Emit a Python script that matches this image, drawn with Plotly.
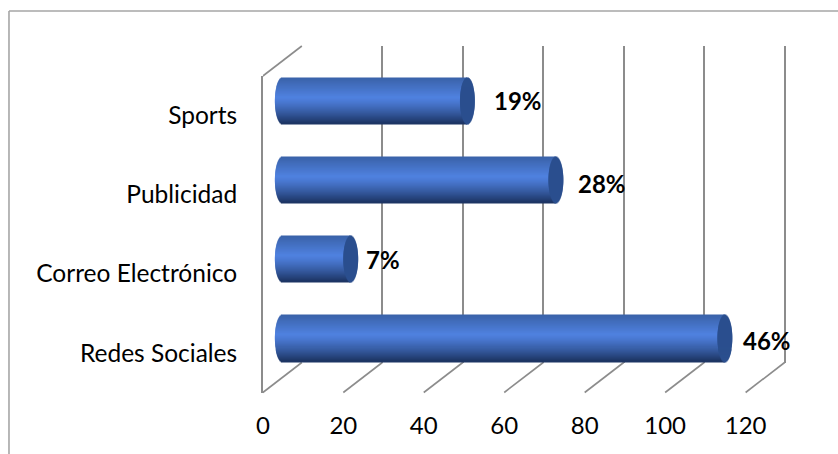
import math
import plotly.graph_objects as go

categories = ["Redes Sociales", "Correo Electrónico", "Publicidad", "Sports"]
values = [110, 17, 68, 46]
labels = ["46%", "7%", "28%", "19%"]
label_shift = [42, 32, 46, 51]
label_yshift = [-2, 0, -3, 1]
ticks = [0, 20, 40, 60, 80, 100, 120]

W, H = 838, 454
PX = 4.057            # pixels per value unit
X0, Y_BOTTOM, PH = 258, 392.5, 316.5
DX, DY = 39.3, 30     # depth of the 3D box in pixels
PW = 527
PAD = 20              # room left of the bars' zero for the rounded end
FONT = "Lato, Carlito, Open Sans, sans-serif"
GRID = "#8c8c8c"
BAR_W = 0.585
RX = 7.5 / PX
N = 46


def xdom(shift, pad=0):
    return [(X0 + shift - pad) / W, (X0 + shift + PW) / W]


def ydom(shift):
    return [1 - (Y_BOTTOM - shift) / H, 1 - (Y_BOTTOM - shift - PH) / H]


def mix(a, b, t):
    return tuple(a[i] + (b[i] - a[i]) * t for i in range(3))


TOP, MID, BOT = (58, 98, 168), (80, 130, 224), (28, 52, 98)


def shade(s):
    c = mix(TOP, MID, s / 0.43) if s < 0.43 else mix(MID, BOT, ((s - 0.43) / 0.57) ** 1.25)
    return "rgb(%d,%d,%d)" % c


fig = go.Figure()
# invisible traces bind the front axes and the back wall axes
fig.add_scatter(x=ticks, y=[categories[0]] * len(ticks), mode="markers",
                marker=dict(opacity=0), xaxis="x", yaxis="y", showlegend=False, hoverinfo="skip")
fig.add_scatter(x=ticks, y=[categories[0]] * len(ticks), mode="markers",
                marker=dict(opacity=0), xaxis="x2", yaxis="y2", showlegend=False, hoverinfo="skip")

step = BAR_W / N
for i in range(N):
    s = (i + 0.5) / N                       # 0 at top of cylinder, 1 at bottom
    t = 1 - 2 * s
    bulge = RX * math.sqrt(max(0, 1 - t * t))
    offset = BAR_W / 2 - (i + 1) * step
    fig.add_bar(
        y=categories, x=[v + bulge for v in values], base=[-bulge] * 4,
        orientation="h", width=step * (1.6 if i else 1), offset=offset,
        marker=dict(color=shade(s), line=dict(width=0)),
        xaxis="x3", yaxis="y3", showlegend=False, hoverinfo="skip",
    )
for i in range(N):
    s = (i + 0.5) / N
    t = 1 - 2 * s
    bulge = RX * math.sqrt(max(0, 1 - t * t))
    offset = BAR_W / 2 - (i + 1) * step
    fig.add_bar(
        y=categories, x=[2 * bulge] * 4, base=[v - bulge for v in values],
        orientation="h", width=step * (1.6 if i else 1), offset=offset,
        marker=dict(color="#2b4f8e", line=dict(width=0)),
        xaxis="x3", yaxis="y3", showlegend=False, hoverinfo="skip",
    )

annotations = [
    dict(x=v, y=c, xref="x3", yref="y3", text="<b>%s</b>" % l, showarrow=False,
         xanchor="center", yanchor="middle", xshift=s, yshift=ys,
         font=dict(family=FONT, size=24, color="#000000"))
    for v, c, l, s, ys in zip(values, categories, labels, label_shift, label_yshift)
]

# floor diagonals and left wall lines, running from front axis to back wall
shapes = []
depth = DX / PX
yf = 1 - Y_BOTTOM / H
yb = 1 - (Y_BOTTOM - DY) / H
for t in ticks:
    shapes.append(dict(type="line", xref="x", yref="paper", x0=t, x1=t + depth, y0=yf, y1=yb,
                       line=dict(color=GRID, width=1.6), layer="below"))
yf2 = 1 - (Y_BOTTOM - PH) / H
yb2 = 1 - (Y_BOTTOM - PH - DY) / H
shapes.append(dict(type="line", xref="x", yref="paper", x0=0, x1=depth, y0=yf2, y1=yb2,
                   line=dict(color=GRID, width=1.6), layer="below"))
# chart frame: only top and left edges are visible
FX, FY = 2, 11
shapes.append(dict(type="line", xref="paper", yref="paper", x0=FX / W, x1=1, y0=1 - FY / H, y1=1 - FY / H,
                   line=dict(color="#a6a6a6", width=1.3)))
shapes.append(dict(type="line", xref="paper", yref="paper", x0=FX / W, x1=FX / W, y0=0, y1=1 - FY / H,
                   line=dict(color="#a6a6a6", width=1.6)))

rng = [0, PW / PX]
cat_rng = [-0.5, 3.5]
fig.update_layout(
    width=W, height=H, autosize=False,
    margin=dict(l=0, r=0, t=0, b=0),
    paper_bgcolor="white", plot_bgcolor="rgba(0,0,0,0)",
    barmode="overlay", showlegend=False, shapes=shapes, annotations=annotations,
    xaxis=dict(domain=xdom(0), range=rng, anchor="y", tickmode="array", tickvals=ticks,
               ticktext=[str(t) for t in ticks], showgrid=False, zeroline=False, ticks="",
               ticklabelstandoff=16, tickfont=dict(family=FONT, size=24, color="#000000")),
    yaxis=dict(domain=ydom(0), range=cat_rng, anchor="x", type="category",
               categoryorder="array", categoryarray=categories, showgrid=False,
               showline=True, linecolor=GRID, linewidth=1.6, ticks="",
               ticklabelstandoff=19, tickfont=dict(family=FONT, size=24.5, color="#000000")),
    xaxis2=dict(domain=xdom(DX), range=rng, anchor="y2", tickmode="array", tickvals=ticks,
                showgrid=True, gridcolor=GRID, gridwidth=2, zeroline=False,
                showticklabels=False, ticks=""),
    yaxis2=dict(domain=ydom(DY), range=cat_rng, anchor="x2", type="category",
                categoryorder="array", categoryarray=categories,
                showgrid=False, zeroline=False, showticklabels=False, ticks=""),
    xaxis3=dict(domain=xdom(DX / 2, PAD), range=[-PAD / PX, PW / PX], anchor="y3", visible=False),
    yaxis3=dict(domain=ydom(DY / 2 - 0.5), range=cat_rng, anchor="x3", type="category",
                categoryorder="array", categoryarray=categories, visible=False),
)

fig.write_html("out.html", config={"displayModeBar": False},
               default_width="838px", default_height="454px",
               post_script="document.body.style.margin='0';document.documentElement.style.overflow='hidden';")
